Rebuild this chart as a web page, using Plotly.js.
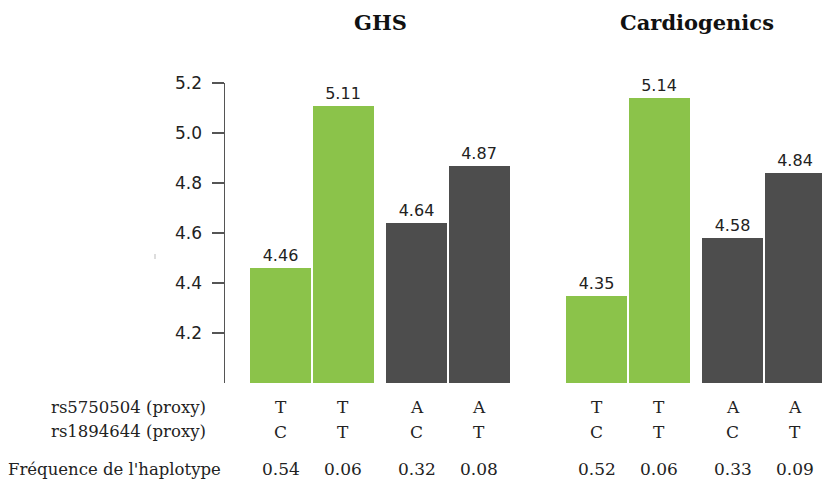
<!DOCTYPE html>
<html>
<head>
<meta charset="utf-8">
<script src="https://cdn.plot.ly/plotly-3.0.1.min.js"></script>
<style>html,body{margin:0;padding:0;background:#fff;}#chart{width:822px;height:482px;}</style>
</head>
<body>
<div id="chart"></div>
<script>
const groups = ['GHS', 'Cardiogenics'];
const rs5750504 = ['T', 'T', 'A', 'A'];
const rs1894644 = ['C', 'T', 'C', 'T'];
const ghsValues = [4.46, 5.11, 4.64, 4.87];
const cardioValues = [4.35, 5.14, 4.58, 4.84];
const ghsFreq = ['0.54', '0.06', '0.32', '0.08'];
const cardioFreq = ['0.52', '0.06', '0.33', '0.09'];
const yTicks = [4.2, 4.4, 4.6, 4.8, 5.0, 5.2];
const rowLabels = ['rs5750504 (proxy)', 'rs1894644 (proxy)', "Fréquence de l'haplotype"];

const GREEN = '#8BC34A', DARK = '#4D4D4D';
const barColors = [GREEN, GREEN, DARK, DARK];
const values = [ghsValues, cardioValues];
const freqs = [ghsFreq, cardioFreq];

function pos(g, i) {
  const p = Math.floor(i / 2), k = i % 2;
  return 55.5 + g * 316 + p * 136 + k * 62.5;
}

const traces = [];
const annotations = [];
const serif = 'DejaVu Serif';
const textColor = '#222';
const rowY = [-0.08, -0.1633, -0.2867];

groups.forEach((name, g) => {
  const xs = values[g].map((v, i) => pos(g, i));
  traces.push({
    type: 'bar',
    x: xs,
    y: values[g].map(v => v - 4),
    base: 4,
    width: 61,
    marker: {color: barColors, line: {width: 0}},
    text: values[g].map(v => v.toFixed(2)),
    textposition: 'outside',
    textfont: {family: 'DejaVu Sans', size: 16, color: textColor},
    cliponaxis: false,
    hoverinfo: 'none',
    showlegend: false
  });
  const center = (xs[0] + xs[3]) / 2 + 1;
  annotations.push({
    text: '<b>' + name + '</b>', x: center, xref: 'x', y: 1.2033, yref: 'paper',
    xanchor: 'center', yanchor: 'middle', showarrow: false,
    font: {family: serif, size: 21, color: '#111'}
  });
  xs.forEach((x, i) => {
    [rs5750504[i], rs1894644[i], freqs[g][i]].forEach((t, r) => {
      annotations.push({
        text: t, x: x, xref: 'x', y: rowY[r], yref: 'paper',
        xanchor: 'center', yanchor: 'middle', showarrow: false,
        font: {family: serif, size: 17, color: textColor}
      });
    });
  });
});

rowLabels.forEach((t, r) => {
  annotations.push({
    text: t, x: r < 2 ? -17 / 597 : -2 / 597, xref: 'paper', y: rowY[r], yref: 'paper',
    xanchor: 'right', yanchor: 'middle', showarrow: false,
    font: {family: serif, size: 16.5, color: textColor}
  });
});

const layout = {
  width: 822, height: 482,
  margin: {l: 225, r: 0, t: 83, b: 99, pad: 0},
  paper_bgcolor: '#fff', plot_bgcolor: '#fff',
  bargap: 0,
  xaxis: {range: [0, 597], visible: false, fixedrange: true},
  yaxis: {
    range: [4, 5.2], tickvals: yTicks, tickformat: '.1f',
    ticks: 'outside', ticklen: 12, tickwidth: 1.5, tickcolor: '#555',
    showline: true, linecolor: '#555', linewidth: 1.5,
    showgrid: false, zeroline: false, ticklabelstandoff: 6,
    tickfont: {family: 'DejaVu Sans', size: 17, color: textColor}
  },
  shapes: [{type: 'line', xref: 'paper', yref: 'y', x0: -70 / 597, x1: -70 / 597, y0: 4.496, y1: 4.516,
            line: {color: '#bbb', width: 1}}],
  annotations: annotations
};

Plotly.newPlot('chart', traces, layout, {displayModeBar: false, staticPlot: true});
</script>
</body>
</html>
